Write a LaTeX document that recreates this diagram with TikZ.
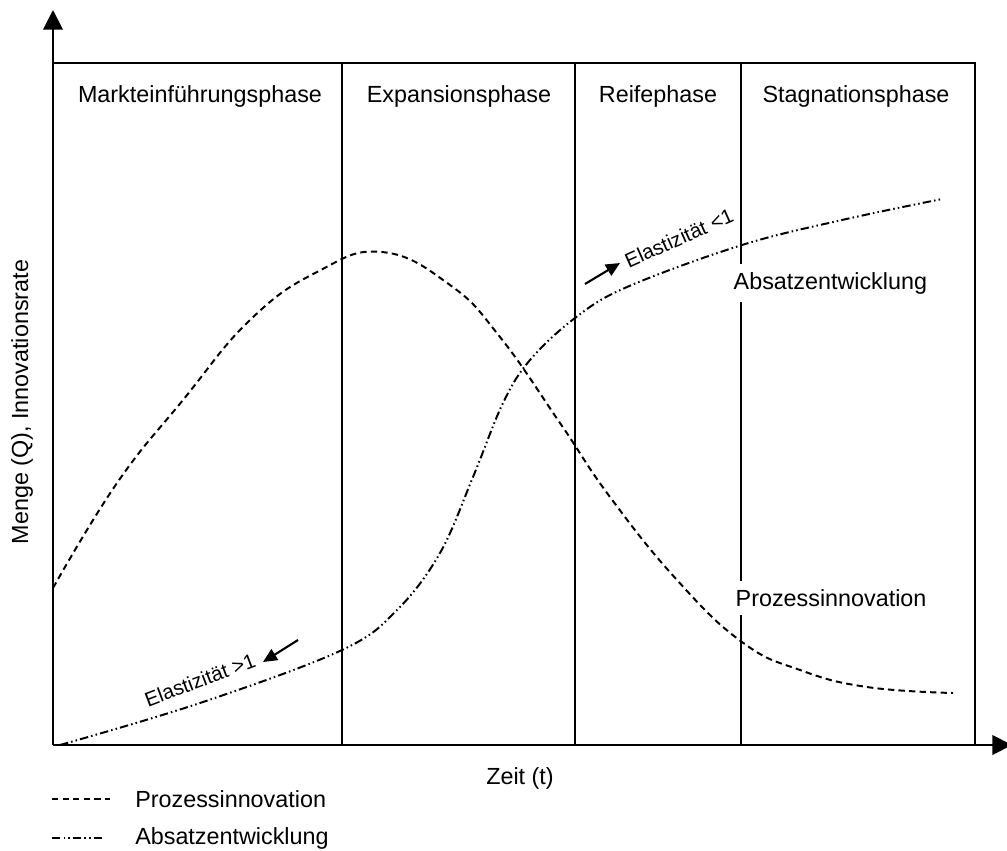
\documentclass[tikz,border=0pt]{standalone}
\usepackage{fontspec}
\setmainfont{Liberation Sans}
\usetikzlibrary{arrows.meta,positioning}

\tikzset{
  achse/.style={line width=1.4pt,-{Triangle[width=14pt,length=14pt]}},
  rahmen/.style={line width=1.3pt},
  prozess/.style={line width=1.4pt,dash pattern=on 4.5pt off 3pt},
  absatz/.style={line width=1.4pt,dash pattern=on 6pt off 2.2pt on 1.1pt off 2.2pt on 1.1pt off 2.2pt},
  pfeil/.style={line width=1.5pt,-{Triangle[width=9pt,length=10pt]}},
  elast/.style={font=\fontsize{14.5}{16}\selectfont,inner sep=0pt},
  kurvlabel/.style={anchor=west,fill=white,inner sep=6pt}
}

\begin{document}
\begin{tikzpicture}[x=0.025cm,y=-0.025cm,font=\fontsize{16.6}{20}\selectfont]
\useasboundingbox (0,0) rectangle (1007,850);

\coordinate (o) at (53,745);
\coordinate (ytip) at (53,10);
\coordinate (xtip) at (1012,745);
\coordinate (lo) at (53,63);
\coordinate (ro) at (975,63);
\coordinate (ru) at (975,745);

\draw[achse] (o) -- (ytip);
\draw[achse] (o) -- (xtip);
\draw[rahmen] (lo) -- (ro) -- (ru);

\begin{scope}
\def\grenzen{1/342,2/575,3/741}
\foreach \i / \x in \grenzen {
  \coordinate (g\i o) at (\x,63);
  \coordinate (g\i u) at (\x,745);
  \draw[rahmen] (g\i o) -- (g\i u);
}
\end{scope}

\begin{scope}
\def\phasen{1/{Markteinführungsphase}/200,2/{Expansionsphase}/459,3/{Reifephase}/658,4/{Stagnationsphase}/856}
\foreach \i / \element / \x in \phasen
  \node (ph\i) at (\x,96) {\element};
\end{scope}

\draw[prozess] plot[smooth,tension=0.75] coordinates {(53,588) (117,483) (183,400) (250,320) (317,272) (382,252) (450,285) (500,337) (560,423) (610,497) (677,580) (742,642) (800,670) (867,687) (953,693)};
\draw[absatz] plot[smooth,tension=0.6] coordinates {(60,745) (200,703) (342,650) (397,610) (440,553) (473,477) (503,403) (530,360) (575,318) (627,287) (742,245) (842,220) (942,199)};

\node[kurvlabel] (absl) at (725,283) {Absatzentwicklung};
\node[kurvlabel] (prol) at (727,598) {Prozessinnovation};

\node[elast,rotate=20.7] (el1) at (200,680) {Elastizität >1};
\node[elast,rotate=24] (el2) at (679,238) {Elastizität <1};
\coordinate (a1s) at (298,640);
\coordinate (a1e) at (263,662);
\coordinate (a2s) at (585,284);
\coordinate (a2e) at (620,263);
\draw[pfeil] (a1s) -- (a1e);
\draw[pfeil] (a2s) -- (a2e);

\node[rotate=90] (ylab) at (22,402) {Menge (Q), Innovationsrate};
\node (xlab) at (520,778) {Zeit (t)};

\coordinate (l1a) at (52,799);
\coordinate (l1b) at (110,799);
\coordinate (l2a) at (52,838);
\coordinate (l2b) at (103,838);
\draw[prozess,line width=1pt] (l1a) -- (l1b);
\draw[absatz,line width=1pt] (l2a) -- (l2b);
\node[anchor=west,inner sep=0pt] (leg1) at (135,799) {Prozessinnovation};
\node[anchor=west,inner sep=0pt] (leg2) at (135,838) {Absatzentwicklung};

\end{tikzpicture}
\end{document}
